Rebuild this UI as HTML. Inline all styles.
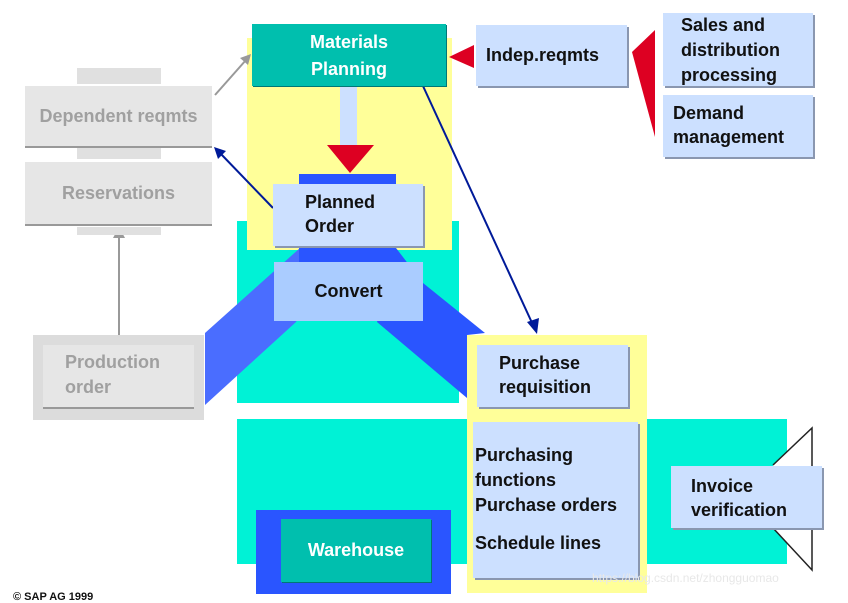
<!DOCTYPE html>
<html><head><style>
body{margin:0;width:848px;height:603px;background:#fff;position:relative;overflow:hidden;font-family:"Liberation Sans",sans-serif;font-weight:bold;}
.a{position:absolute;box-sizing:border-box;}
.bx{box-shadow:2px 2px 0 #8a97b0;background:#cce0ff;color:#111;font-size:18px;line-height:24px;}
.g{background:#e6e6e6;color:#a0a0a0;font-size:18px;box-shadow:0 2px 0 #999;}
svg{position:absolute;left:0;top:0;}
</style></head><body>
<div class="a" style="left:247px;top:38px;width:205px;height:212px;background:#ffff99"></div>
<div class="a" style="left:237px;top:221px;width:222px;height:182px;background:#00f2d6"></div>
<div class="a" style="left:247px;top:221px;width:205px;height:29px;background:#ffff99"></div>
<div class="a" style="left:237px;top:419px;width:550px;height:145px;background:#00f2d6"></div>
<div class="a" style="left:467px;top:335px;width:180px;height:258px;background:#ffff99"></div>
<svg width="848" height="603">
<polygon points="205,333 300,248 330,260 296,322 205,405" fill="#4a6dff"/>
<polygon points="396,248 423,283 485,333 467,335 467,398 377,322" fill="#2a55ff"/>
<rect x="299" y="174" width="97" height="88" fill="#2a55ff"/>
<rect x="340" y="86" width="17" height="60" fill="#cce0ff"/>
<polygon points="327,145 374,145 350,173" fill="#dd0022"/>
<polygon points="449,57 474,45 474,68" fill="#dd0022"/>
<polygon points="632,52 655,30 655,137" fill="#dd0022"/>
<polyline points="773,465 812,428 812,570 773,528" fill="#fff" stroke="#222" stroke-width="1.5"/>
<line x1="119" y1="345" x2="119" y2="235" stroke="#999" stroke-width="2"/>
<polygon points="113,238 125,238 119,227" fill="#999"/>
<line x1="215" y1="95" x2="246" y2="60" stroke="#999" stroke-width="2"/>
<polygon points="251,54 240,58 248,65" fill="#999"/>
<line x1="273" y1="208" x2="220" y2="153" stroke="#001a99" stroke-width="2"/>
<polygon points="214,147 218,159 226,151" fill="#001a99"/>
<line x1="423" y1="86" x2="533" y2="325" stroke="#001a99" stroke-width="2"/>
<polygon points="537,334 527,322 539,318" fill="#001a99"/>
</svg>
<div class="a" style="left:77px;top:68px;width:84px;height:16px;background:#e0e0e0"></div>
<div class="a" style="left:77px;top:148px;width:84px;height:11px;background:#e0e0e0"></div>
<div class="a" style="left:77px;top:227px;width:84px;height:8px;background:#e0e0e0"></div>
<div class="a g" style="left:25px;top:86px;width:187px;height:60px;text-align:center;line-height:60px">Dependent reqmts</div>
<div class="a g" style="left:25px;top:162px;width:187px;height:62px;text-align:center;line-height:62px">Reservations</div>
<div class="a" style="left:33px;top:335px;width:171px;height:85px;background:#dcdcdc"></div>
<div class="a g" style="left:43px;top:345px;width:151px;height:62px;padding:5px 0 0 22px;line-height:25px">Production<br>order</div>
<div class="a" style="left:252px;top:24px;width:194px;height:62px;background:#00bfae;color:#fff;font-size:18px;line-height:27px;text-align:center;padding-top:5px;box-shadow:1px 1px 0 #077">Materials<br>Planning</div>
<div class="a bx" style="left:273px;top:184px;width:150px;height:62px;padding:6px 0 0 32px">Planned<br>Order</div>
<div class="a bx" style="left:274px;top:262px;width:149px;height:59px;background:#aaccff;text-align:center;line-height:59px;box-shadow:none">Convert</div>
<div class="a bx" style="left:476px;top:25px;width:151px;height:61px;padding-left:10px;line-height:61px">Indep.reqmts</div>
<div class="a bx" style="left:663px;top:13px;width:150px;height:73px;padding:0 0 0 18px;line-height:25px">Sales and<br>distribution<br>processing</div>
<div class="a bx" style="left:663px;top:95px;width:150px;height:62px;padding:6px 0 0 10px">Demand<br>management</div>
<div class="a bx" style="left:477px;top:345px;width:151px;height:62px;padding:6px 0 0 22px">Purchase<br>requisition</div>
<div class="a bx" style="left:473px;top:422px;width:165px;height:156px;padding:21px 0 0 2px;line-height:25px">Purchasing<br>functions<br>Purchase orders<div style="height:13px"></div>Schedule lines</div>
<div class="a bx" style="left:671px;top:466px;width:151px;height:62px;padding:8px 0 0 20px">Invoice<br>verification</div>
<div class="a" style="left:256px;top:510px;width:195px;height:84px;background:#2a55ff"></div>
<div class="a" style="left:281px;top:519px;width:150px;height:63px;background:#00bfae;color:#fff;font-size:18px;text-align:center;line-height:63px;box-shadow:1px 1px 0 #077">Warehouse</div>
<div class="a" style="left:13px;top:591px;font-size:11px;color:#111">© SAP AG 1999</div>
<div class="a" style="left:592px;top:571px;font-size:12px;font-weight:normal;color:#e8e8e8">https://blog.csdn.net/zhongguomao</div>
</body></html>
